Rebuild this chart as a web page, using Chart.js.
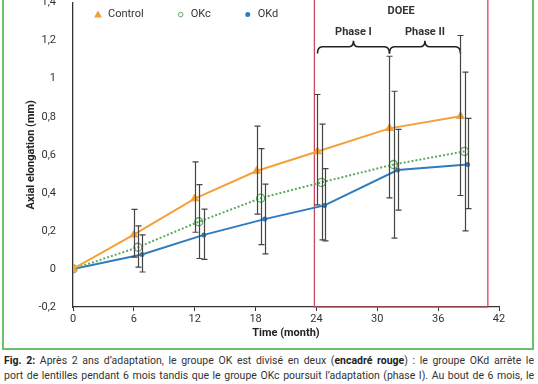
<!DOCTYPE html>
<html><head><meta charset="utf-8">
<script src="https://cdn.jsdelivr.net/npm/chart.js@4.4.0/dist/chart.umd.min.js"></script>
<style>
html,body{margin:0;padding:0;background:#fff;}
#wrap{position:relative;width:538px;height:384px;overflow:hidden;background:#fff;font-family:Roboto,sans-serif;}
#frame{position:absolute;left:2px;top:-5px;width:532px;height:355px;border-left:2px solid #6cbf6c;border-right:2px solid #6cbf6c;border-bottom:2px solid #6cbf6c;box-sizing:border-box;}
#cv{position:absolute;left:0;top:-13px;}
.cap{position:absolute;left:4px;width:530px;font-size:10.5px;color:#333;text-align:justify;text-align-last:justify;line-height:14px;white-space:nowrap;overflow:hidden;}
.cap b{color:#222;}
</style></head>
<body>
<div id="wrap">
<div id="frame"></div>
<canvas id="cv" width="538" height="360"></canvas>
<div class="cap" style="top:354px"><b>Fig. 2:</b> Après 2 ans d’adaptation, le groupe OK est divisé en deux (<b>encadré rouge</b>) : le groupe OKd arrête le</div>
<div class="cap" style="top:369px">port de lentilles pendant 6 mois tandis que le groupe OKc poursuit l’adaptation (phase I). Au bout de 6 mois, le</div>
</div>
<script>
// ---- data ----
const seriesNames = ['Control', 'OKc', 'OKd'];
const controlMonths = [0, 6, 12, 18.1, 24.1, 31.2, 38.2];
const controlValues = [0, 0.18, 0.37, 0.515, 0.617, 0.739, 0.803];
const controlLow  = [null, 0.062, 0.193, 0.288, 0.337, 0.374, 0.386];
const controlHigh = [null, 0.313, 0.563, 0.751, 0.917, 1.118, 1.227];
const okcMonths = [0, 6.4, 12.4, 18.5, 24.5, 31.6, 38.6];
const okcValues = [0, 0.114, 0.248, 0.372, 0.455, 0.549, 0.618];
const okcLow  = [null, 0.01, 0.055, 0.128, 0.153, 0.162, 0.2];
const okcHigh = [null, 0.226, 0.443, 0.632, 0.761, 0.934, 1.035];
const okdMonths = [0, 6.8, 12.9, 18.9, 24.8, 32, 38.9];
const okdValues = [0, 0.076, 0.179, 0.262, 0.334, 0.52, 0.549];
const okdLow  = [null, -0.016, 0.05, 0.079, 0.148, 0.309, 0.317];
const okdHigh = [null, 0.179, 0.314, 0.446, 0.527, 0.734, 0.791];
const doeeRange = [23.8, 40.9];
const phaseBounds = [24.1, 31.2, 38.2];
const phaseLabels = ['Phase I', 'Phase II'];
const boxLabel = 'DOEE';
const xTitle = 'Time (month)';
const yTitle = 'Axial elongation (mm)';

const COL = {control:'#f4a13a', okc:'#5aab5a', okd:'#2f7bbf', axis:'#333', red:'#c94a5e', bar:'#444'};
const toPts = (xs, ys) => xs.map((v, i) => ({x: v, y: ys[i]}));
const fmt = v => { const r = Math.round(v * 10) / 10; return String(r).replace('.', ','); };

const errPlugin = {
  id: 'err',
  afterDatasetsDraw(chart) {
    const {ctx, scales: {x, y}} = chart;
    ctx.save();
    ctx.strokeStyle = COL.bar; ctx.lineWidth = 1.2;
    chart.data.datasets.forEach(ds => {
      ds.data.forEach((p, j) => {
        if (ds.errLow[j] == null) return;
        const px = Math.round(x.getPixelForValue(p.x)) + 0.5;
        const y1 = y.getPixelForValue(ds.errLow[j]), y2 = y.getPixelForValue(ds.errHigh[j]);
        ctx.beginPath();
        ctx.moveTo(px, y1); ctx.lineTo(px, y2);
        ctx.moveTo(px - 3, y1); ctx.lineTo(px + 3, y1);
        ctx.moveTo(px - 3, y2); ctx.lineTo(px + 3, y2);
        ctx.stroke();
      });
    });
    ctx.restore();
  }
};

const boxPlugin = {
  id: 'box',
  beforeDatasetsDraw(chart) {
    const {ctx, scales: {x, y}} = chart;
    ctx.save();
    ctx.strokeStyle = COL.red; ctx.lineWidth = 1.3;
    const x1 = x.getPixelForValue(doeeRange[0]), x2 = x.getPixelForValue(doeeRange[1]);
    const yb = y.getPixelForValue(-0.2);
    ctx.strokeRect(x1, 0, x2 - x1, yb);
    // braces
    ctx.strokeStyle = '#222'; ctx.lineWidth = 1.6;
    const yEnd = y.getPixelForValue(1.132), yMid = y.getPixelForValue(1.168), yTip = y.getPixelForValue(1.2);
    for (let k = 0; k < 2; k++) {
      const a = x.getPixelForValue(phaseBounds[k]), b = x.getPixelForValue(phaseBounds[k + 1]);
      const m = (a + b) / 2, r = 5;
      ctx.beginPath();
      ctx.moveTo(a, yEnd);
      ctx.quadraticCurveTo(a, yMid, a + r, yMid);
      ctx.lineTo(m - r, yMid);
      ctx.quadraticCurveTo(m, yMid, m, yTip);
      ctx.quadraticCurveTo(m, yMid, m + r, yMid);
      ctx.lineTo(b - r, yMid);
      ctx.quadraticCurveTo(b, yMid, b, yEnd);
      ctx.stroke();
    }
    ctx.fillStyle = '#333';
    ctx.font = 'bold 11px Roboto';
    ctx.textAlign = 'center'; ctx.textBaseline = 'middle';
    ctx.fillText(boxLabel, (x1 + x2) / 2, y.getPixelForValue(1.354));
    for (let k = 0; k < 2; k++) {
      const m = (x.getPixelForValue(phaseBounds[k]) + x.getPixelForValue(phaseBounds[k + 1])) / 2;
      ctx.fillText(phaseLabels[k], m, y.getPixelForValue(1.245));
    }
    ctx.restore();
  }
};

const legendPlugin = {
  id: 'lg',
  afterDraw(chart) {
    const {ctx, chartArea} = chart;
    ctx.save();
    ctx.font = '11px Roboto';
    ctx.textBaseline = 'middle'; ctx.textAlign = 'left';
    let cx = chartArea.left + 25;
    const cy = chartArea.top + 12;
    chart.data.datasets.forEach(ds => {
      ctx.fillStyle = ds.borderColor; ctx.strokeStyle = ds.borderColor; ctx.lineWidth = 1;
      if (ds.pointStyle === 'triangle') {
        ctx.beginPath(); ctx.moveTo(cx, cy - 4); ctx.lineTo(cx + 4, cy + 3); ctx.lineTo(cx - 4, cy + 3); ctx.closePath(); ctx.fill();
      } else if (ds.legendOpen) {
        ctx.beginPath(); ctx.arc(cx, cy, 2.3, 0, Math.PI * 2); ctx.stroke();
      } else {
        ctx.beginPath(); ctx.arc(cx, cy, 2.5, 0, Math.PI * 2); ctx.fill();
      }
      ctx.fillStyle = '#333';
      ctx.fillText(ds.label, cx + 10, cy);
      cx += 10 + ctx.measureText(ds.label).width + 37;
    });
    ctx.restore();
  }
};

new Chart(document.getElementById('cv'), {
  type: 'line',
  data: {
    datasets: [
      {label: seriesNames[0], data: toPts(controlMonths, controlValues), errLow: controlLow, errHigh: controlHigh,
       borderColor: COL.control, backgroundColor: COL.control, borderWidth: 2, pointStyle: 'triangle', pointRadius: 4.5, pointBorderWidth: 1, tension: 0},
      {label: seriesNames[1], data: toPts(okcMonths, okcValues), errLow: okcLow, errHigh: okcHigh, legendOpen: true,
       borderColor: COL.okc, backgroundColor: 'rgba(255,255,255,0)', borderWidth: 2, borderDash: [2, 2], pointStyle: 'circle', pointRadius: 4, pointBorderWidth: 1.3, tension: 0},
      {label: seriesNames[2], data: toPts(okdMonths, okdValues), errLow: okdLow, errHigh: okdHigh,
       borderColor: COL.okd, backgroundColor: COL.okd, borderWidth: 2, pointStyle: 'circle', pointRadius: 2.5, pointBorderWidth: 0, tension: 0}
    ]
  },
  options: {
    responsive: false, animation: false, devicePixelRatio: 1,
    layout: {padding: {left: 0, right: 39, top: 10, bottom: 0}},
    plugins: {legend: {display: false}, tooltip: {enabled: false}},
    scales: {
      x: {
        type: 'linear', min: 0, max: 42,
        afterFit: s => { s.height = 40; },
        border: {display: true, color: COL.axis, width: 1.3},
        grid: {display: true, drawOnChartArea: false, drawTicks: true, tickLength: 4, color: COL.axis},
        ticks: {stepSize: 6, color: '#333', font: {family: 'Roboto', size: 11}, padding: 2, maxRotation: 0},
        title: {display: true, text: xTitle, color: '#222', font: {family: 'Roboto', size: 11, weight: 'bold'}, padding: {top: 0, bottom: 7}}
      },
      y: {
        min: -0.2, max: 1.4,
        afterFit: s => { s.width = 73; },
        border: {display: true, color: COL.axis, width: 1.3},
        grid: {display: false},
        ticks: {stepSize: 0.2, color: '#333', font: {family: 'Roboto', size: 11}, padding: 9, callback: v => fmt(v)},
        title: {display: true, text: yTitle, color: '#222', font: {family: 'Roboto', size: 11, weight: 'bold'}, padding: {top: 25, bottom: 0}}
      }
    }
  },
  plugins: [boxPlugin, errPlugin, legendPlugin]
});
</script>
</body></html>
